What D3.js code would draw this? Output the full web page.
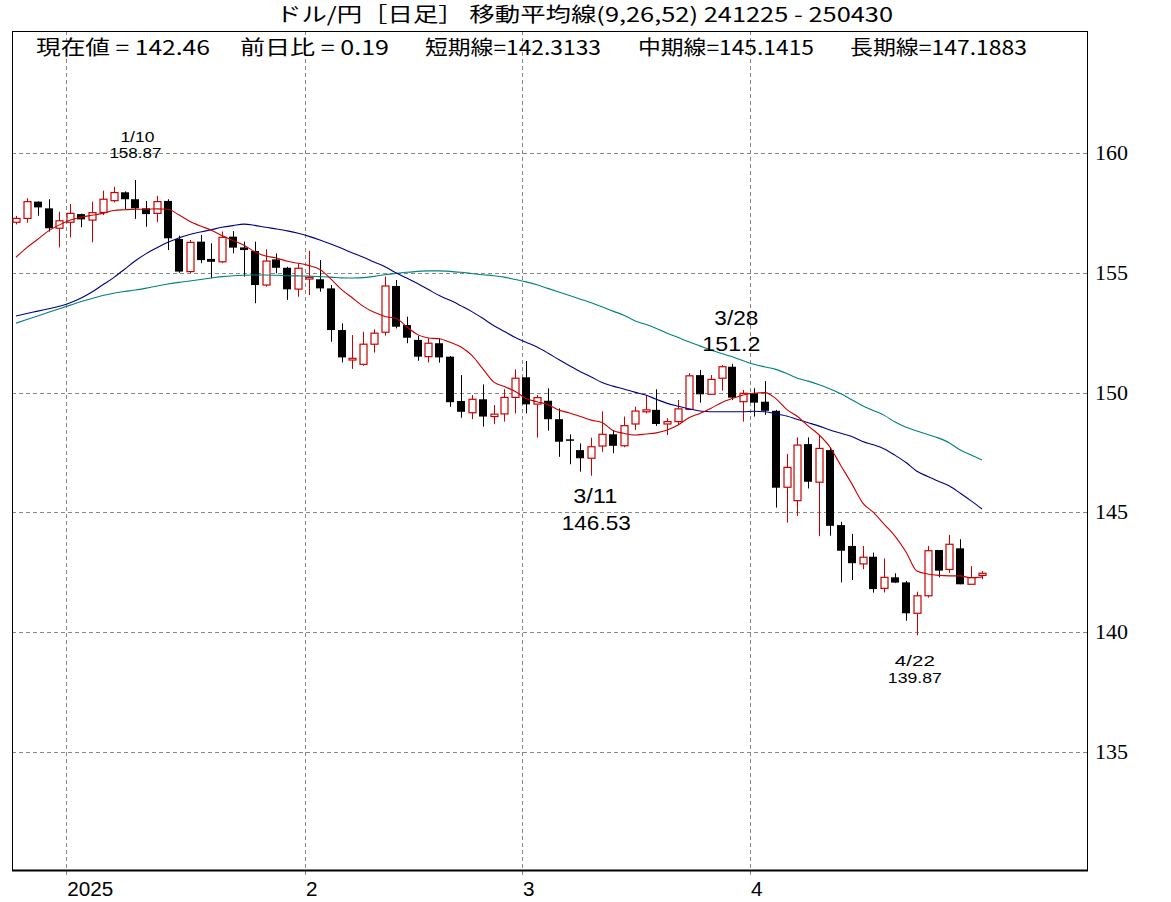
<!DOCTYPE html>
<html><head><meta charset="utf-8">
<script src="https://cdn.jsdelivr.net/npm/d3@7"></script>
<style>
html,body{margin:0;padding:0;background:#fff;}
svg{display:block;}
</style></head>
<body>
<svg id="chart" width="1171" height="902"></svg>
<script>
const dates = ["12/25","12/26","12/27","12/30","12/31",
"1/2","1/3","1/6","1/7","1/8","1/9","1/10","1/13","1/14","1/15","1/16","1/17","1/20","1/21","1/22","1/23","1/24","1/27","1/28","1/29","1/30","1/31",
"2/3","2/4","2/5","2/6","2/7","2/10","2/11","2/12","2/13","2/14","2/17","2/18","2/19","2/20","2/21","2/24","2/25","2/26","2/27","2/28",
"3/3","3/4","3/5","3/6","3/7","3/10","3/11","3/12","3/13","3/14","3/17","3/18","3/19","3/20","3/21","3/24","3/25","3/26","3/27","3/28","3/31",
"4/1","4/2","4/3","4/4","4/7","4/8","4/9","4/10","4/11","4/14","4/15","4/16","4/17","4/18","4/21","4/22","4/23","4/24","4/25","4/28","4/29","4/30"];

const opens = [157.11,157.27,157.97,157.69,156.86,
157.11,157.45,157.2,157.52,158.01,158.36,158.07,157.69,157.48,158.0,156.41,155.05,156.3,155.58,155.46,156.51,156.06,155.91,154.49,155.56,155.21,154.32,
154.74,154.73,154.35,152.61,151.36,151.18,152.02,152.52,154.45,152.82,152.2,151.5,152.06,151.5,149.65,149.16,149.72,149.0,149.11,149.8,
150.64,149.52,149.66,148.89,148.05,147.6,147.26,147.77,148.26,147.78,148.69,149.2,149.28,148.69,148.79,149.3,150.73,149.93,150.6,151.08,149.62,
149.97,149.62,149.24,146.05,145.49,147.85,146.26,147.6,144.47,143.6,142.85,143.15,141.83,142.29,142.08,140.79,141.52,143.43,142.62,143.5,142.0,142.37];
const highs = [157.37,158.11,157.98,158.07,157.55,
157.87,157.47,157.97,158.43,158.59,158.4,158.87,158.0,158.21,158.07,156.55,156.37,156.58,156.23,156.72,156.74,156.3,156.3,155.98,155.81,155.25,155.4,
155.92,155.53,154.49,152.89,152.4,152.54,152.64,154.84,154.7,153.17,152.38,152.27,152.27,151.52,150.73,149.9,150.34,149.48,150.14,150.97,
151.32,149.9,150.18,149.34,148.26,147.88,148.12,149.22,148.44,149.0,149.41,149.9,150.14,148.93,149.69,150.81,150.94,150.73,151.15,151.2,150.11,
150.18,150.48,149.28,147.44,148.13,148.13,148.23,147.72,144.61,144.1,143.6,143.32,143.08,142.46,142.14,141.69,143.6,143.43,144.06,143.88,142.76,142.55];
const lows = [157.02,157.09,157.38,156.72,156.06,
156.48,156.9,156.27,157.41,157.94,157.65,157.25,156.92,157.11,155.95,155.0,154.98,155.4,154.77,155.4,155.81,154.84,153.73,154.42,154.98,153.87,154.0,
154.07,154.21,152.12,151.26,150.99,151.12,151.67,152.38,152.68,152.06,151.33,151.26,151.25,149.41,148.95,148.89,148.58,148.68,148.79,149.13,
149.13,148.12,148.41,147.32,147.01,146.7,146.53,147.53,147.47,147.72,148.44,149.13,148.61,148.23,148.65,149.28,149.58,149.9,150.08,149.69,148.79,
149.0,149.07,145.2,144.57,144.85,146.0,144.01,144.03,142.08,142.18,142.63,141.65,141.66,142.05,140.48,139.87,141.44,142.29,142.48,142.0,142.0,142.21];
const closes = [157.27,157.97,157.73,156.86,157.17,
157.48,157.23,157.51,158.07,158.35,158.07,157.69,157.45,157.97,156.44,155.05,156.27,155.53,155.46,156.48,156.05,155.95,154.49,155.49,155.21,154.31,155.19,
154.81,154.35,152.61,151.47,151.43,152.02,152.48,154.45,152.75,152.29,151.5,152.06,151.47,149.6,149.2,149.72,149.0,149.1,149.8,150.6,
149.51,149.79,148.89,147.95,147.99,147.26,147.74,148.26,147.78,148.62,149.23,149.28,148.69,148.79,149.32,150.7,149.93,150.55,151.08,149.79,149.97,
149.58,149.24,146.03,146.88,147.81,146.28,147.67,144.44,143.4,142.88,143.13,141.8,142.29,142.07,140.79,141.52,143.4,142.57,143.67,142.0,142.28,142.46];

// moving averages (short 9, mid 26, long 52)
const maShort = [155.65,156.05,156.4,156.75,157.0,
157.2,157.32,157.4,157.48,157.6,157.63,157.65,157.65,157.67,157.65,157.42,157.15,156.95,156.78,156.55,156.35,156.15,155.88,155.7,155.62,155.48,155.4,
155.3,155.14,154.75,154.3,153.95,153.6,153.35,153.18,153.1,152.75,152.42,152.28,152.25,152.1,151.9,151.55,151.0,150.45,150.25,150.05,
149.75,149.62,149.5,149.27,149.15,149.0,148.85,148.75,148.42,148.3,148.23,148.27,148.32,148.44,148.65,148.95,149.13,149.34,149.58,149.75,149.9,
149.97,150.0,149.75,149.3,149.0,148.6,148.23,147.72,146.95,146.2,145.4,145.0,144.5,144.0,143.35,142.55,142.43,142.37,142.35,142.35,142.27,142.31];
const maMid = [153.2,153.3,153.4,153.5,153.6,
153.75,153.95,154.2,154.5,154.8,155.15,155.5,155.8,156.05,156.28,156.45,156.6,156.7,156.8,156.9,156.97,157.03,156.98,156.9,156.83,156.75,156.65,
156.52,156.37,156.2,156.02,155.83,155.65,155.45,155.25,155.0,154.78,154.55,154.3,154.05,153.85,153.62,153.38,153.1,152.8,152.55,152.3,
152.1,151.9,151.65,151.38,151.12,150.87,150.65,150.42,150.27,150.15,150.02,149.9,149.72,149.55,149.43,149.32,149.23,149.2,149.2,149.2,149.2,
149.22,149.2,149.12,149.02,148.88,148.74,148.6,148.44,148.3,148.17,147.96,147.82,147.65,147.38,147.08,146.72,146.5,146.3,146.1,145.8,145.48,145.14];
const maLong = [152.9,153.05,153.2,153.35,153.5,
153.65,153.8,153.93,154.05,154.15,154.22,154.28,154.36,154.45,154.53,154.6,154.66,154.72,154.78,154.84,154.88,154.9,154.91,154.91,154.9,154.88,154.87,
154.86,154.84,154.82,154.79,154.78,154.8,154.85,154.92,154.97,155.02,155.06,155.08,155.08,155.06,155.02,154.97,154.92,154.88,154.82,154.72,
154.62,154.5,154.35,154.2,154.05,153.9,153.75,153.58,153.4,153.23,153.0,152.85,152.68,152.48,152.3,152.12,151.95,151.78,151.63,151.5,151.33,
151.18,151.07,150.97,150.8,150.6,150.48,150.33,150.15,149.95,149.7,149.45,149.25,149.05,148.77,148.55,148.4,148.25,148.1,147.9,147.6,147.4,147.19];

const yTicks = [135,140,145,150,155,160];
const monthStarts = ["1/2","2/3","3/3","4/1"];
const monthLabels = ["2025","2","3","4"];
const titleText = "ドル/円［日足］ 移動平均線(9,26,52)  241225 - 250430";
const headerTexts = ["現在値 = 142.46","前日比 = 0.19","短期線=142.3133","中期線=145.1415","長期線=147.1883"];
const notes = [
  {date:"1/10", label:"1/10", value:"158.87", kind:"high"},
  {date:"3/28", label:"3/28", value:"151.2", kind:"high"},
  {date:"3/11", label:"3/11", value:"146.53", kind:"low"},
  {date:"4/22", label:"4/22", value:"139.87", kind:"low"}
];

const svg = d3.select("#chart");
const L = 12, R = 1087, T = 31, B = 870;
const x = d3.scalePoint().domain(dates).range([16, 982]);
const y = d3.scaleLinear().domain([135,160]).range([752,153]);
const RED = "#cc0000", NAVY = "#000080", TEAL = "#008080";

// grid
const g = svg.append("g");
g.selectAll("line.h").data(yTicks).join("line")
  .attr("x1", L).attr("x2", R).attr("y1", d=>Math.round(y(d))+0.5).attr("y2", d=>Math.round(y(d))+0.5)
  .attr("stroke","#888").attr("stroke-dasharray","4,3").attr("stroke-width",1);
g.selectAll("line.v").data(monthStarts).join("line")
  .attr("x1", d=>Math.round(x(d)-4)+0.5).attr("x2", d=>Math.round(x(d)-4)+0.5).attr("y1", T).attr("y2", B+6)
  .attr("stroke","#888").attr("stroke-dasharray","4,3").attr("stroke-width",1);

// frame
svg.append("rect").attr("x",L+0.5).attr("y",T+0.5).attr("width",R-L).attr("height",B-T)
  .attr("fill","none").attr("stroke","#000").attr("stroke-width",1);
svg.append("line").attr("x1",L).attr("x2",R+1).attr("y1",B+0.5).attr("y2",B+0.5).attr("stroke","#000").attr("stroke-width",2);

// y labels
svg.selectAll("text.yl").data(yTicks).join("text")
  .attr("x", 1095).attr("y", d=>y(d)+7)
  .attr("font-family","Liberation Serif, serif").attr("font-size",22).attr("fill","#000")
  .text(d=>d);

// x labels
svg.selectAll("text.xl").data(monthStarts).join("text")
  .attr("x", d=>x(d)-3).attr("y", 896)
  .attr("font-family","Liberation Sans, sans-serif").attr("font-size",20).attr("fill","#000")
  .attr("textLength",(d,i)=>monthLabels[i].length*11.5).attr("lengthAdjust","spacingAndGlyphs")
  .text((d,i)=>monthLabels[i]);

// candles
const idx = d3.range(dates.length);
const cg = svg.append("g");
cg.selectAll("line.w").data(idx).join("line")
  .attr("x1", i=>Math.round(x(dates[i]))+0.5).attr("x2", i=>Math.round(x(dates[i]))+0.5)
  .attr("y1", i=>y(highs[i])).attr("y2", i=>y(lows[i]))
  .attr("stroke", i=>closes[i]>=opens[i]?RED:"#000").attr("stroke-width",1);
cg.selectAll("rect.b").data(idx).join("rect")
  .attr("x", i=>Math.round(x(dates[i]))-3.5+ (closes[i]>=opens[i]?0.5:-0.5))
  .attr("width", i=>closes[i]>=opens[i]?7:8)
  .attr("y", i=>y(Math.max(opens[i],closes[i])))
  .attr("height", i=>Math.max(1.5, Math.abs(y(opens[i])-y(closes[i]))))
  .attr("fill", i=>closes[i]>=opens[i]?"#fff":"#000")
  .attr("stroke", i=>closes[i]>=opens[i]?RED:"none")
  .attr("stroke-width",1.2);

// MAs
const line = arr => d3.line().x((d,i)=>x(dates[i])).y(d=>y(d)).curve(d3.curveMonotoneX)(arr);
svg.append("path").attr("d", line(maLong)).attr("fill","none").attr("stroke",TEAL).attr("stroke-width",1.1);
svg.append("path").attr("d", line(maMid)).attr("fill","none").attr("stroke",NAVY).attr("stroke-width",1.1);
svg.append("path").attr("d", line(maShort)).attr("fill","none").attr("stroke",RED).attr("stroke-width",1.1);

// title & header
const jp = "Noto Sans CJK JP, sans-serif";
svg.append("text").attr("x",276).attr("y",22).attr("font-family",jp).attr("font-size",20)
  .attr("textLength",617).attr("lengthAdjust","spacingAndGlyphs").text(titleText);
const hx = [36,240,425,638,850], hw = [174,149,176,176,177];
svg.selectAll("text.hd").data(headerTexts).join("text")
  .attr("x",(d,i)=>hx[i]).attr("y",55).attr("font-family",jp).attr("font-size",20)
  .attr("textLength",(d,i)=>hw[i]).attr("lengthAdjust","spacingAndGlyphs").text(d=>d);

// annotations (offsets from the extreme's y position)
const noteFont = "Liberation Sans, Arial, sans-serif";
const noteStyle = {
  "1/10": {dy1:-38, dy2:-22, fs:14, dx1:2, dx2:0, w1:34, w2:52},
  "3/28": {dy1:-39, dy2:-13, fs:21, dx1:4, dx2:-1, w1:44, w2:58},
  "3/11": {dy1:27, dy2:54, fs:21, dx1:4, dx2:5, w1:44, w2:69},
  "4/22": {dy1:31, dy2:48, fs:15, dx1:-2, dx2:-2, w1:40, w2:54}
};
notes.forEach(n=>{
  const i = dates.indexOf(n.date);
  const cx = x(n.date);
  const p = noteStyle[n.date];
  const base = n.kind==="high" ? y(highs[i]) : y(lows[i]);
  svg.append("text").attr("x",cx+p.dx1).attr("y",base+p.dy1).attr("text-anchor","middle")
    .attr("font-family",noteFont).attr("font-size",p.fs)
    .attr("textLength", p.w1).attr("lengthAdjust","spacingAndGlyphs").text(n.label);
  svg.append("text").attr("x",cx+p.dx2).attr("y",base+p.dy2).attr("text-anchor","middle")
    .attr("font-family",noteFont).attr("font-size",p.fs)
    .attr("textLength", p.w2).attr("lengthAdjust","spacingAndGlyphs").text(n.value);
});
</script>
</body></html>
